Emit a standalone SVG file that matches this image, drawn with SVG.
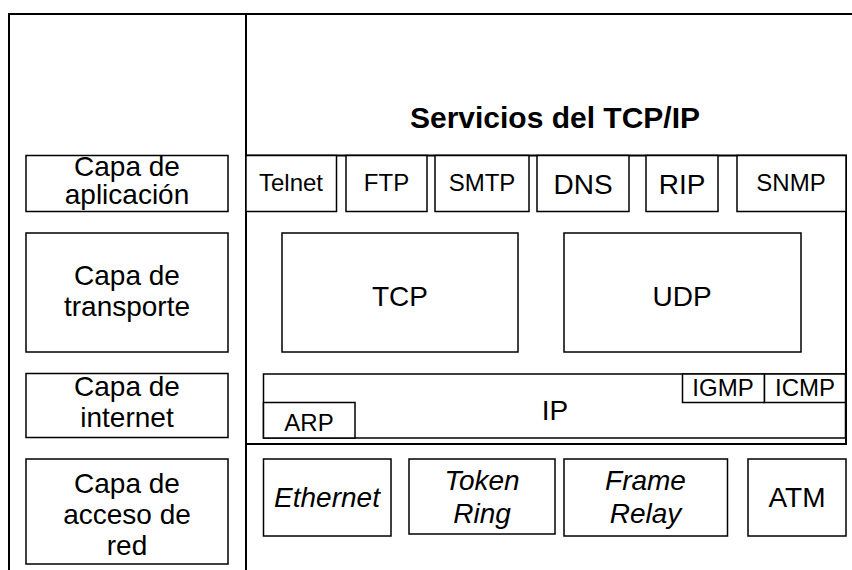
<svg xmlns="http://www.w3.org/2000/svg" width="852" height="570" viewBox="0 0 852 570">
<style>
.frame{fill:none;stroke:#000;stroke-width:2}
.box{fill:#fff;stroke:#000;stroke-width:1.5}
text{font-family:"Liberation Sans",Arial,sans-serif;fill:#000;text-anchor:middle}
.b{font-size:28px}
.s{font-size:24px}
.i{font-style:italic}
.t{font-size:30px;font-weight:bold}
</style>
<rect width="852" height="570" fill="#fff"/>
<g id="connectors">
<path class="frame" d="M9,570 V14 H852 M246,14 V570 M246,155.5 H846 V444 H246"/>
</g>
<g id="title"><text class="t" x="555" y="128">Servicios del TCP/IP</text></g>
<g id="capa-aplicacion"><rect class="box" x="26" y="155.5" width="202" height="56"/><text class="b" x="127" y="176">Capa de</text><text class="b" x="127" y="204">aplicación</text></g>
<g id="capa-transporte"><rect class="box" x="26" y="233" width="202" height="119"/><text class="b" x="127" y="285">Capa de</text><text class="b" x="127" y="316">transporte</text></g>
<g id="capa-internet"><rect class="box" x="26" y="373.5" width="202" height="64"/><text class="b" x="127" y="396">Capa de</text><text class="b" x="127" y="427">internet</text></g>
<g id="capa-acceso"><rect class="box" x="26" y="459" width="202" height="105"/><text class="b" x="127" y="493">Capa de</text><text class="b" x="127" y="524">acceso de</text><text class="b" x="127" y="555">red</text></g>
<g id="telnet"><rect class="box" x="246" y="155.5" width="90.5" height="56"/><text class="s" x="291" y="191">Telnet</text></g>
<g id="ftp"><rect class="box" x="346" y="155.5" width="81" height="56"/><text class="s" x="386.5" y="191">FTP</text></g>
<g id="smtp"><rect class="box" x="435" y="155.5" width="94" height="56"/><text class="s" x="482" y="191">SMTP</text></g>
<g id="dns"><rect class="box" x="537" y="155.5" width="92" height="56"/><text class="b" x="583" y="194">DNS</text></g>
<g id="rip"><rect class="box" x="646" y="155.5" width="72" height="56"/><text class="b" x="682" y="194">RIP</text></g>
<g id="snmp"><rect class="box" x="737" y="155.5" width="109" height="56"/><text class="s" x="791" y="191">SNMP</text></g>
<g id="tcp"><rect class="box" x="282" y="233" width="236" height="119"/><text class="b" x="400" y="306">TCP</text></g>
<g id="udp"><rect class="box" x="564" y="233" width="237" height="119"/><text class="b" x="682" y="306">UDP</text></g>
<g id="ip"><rect class="box" x="263.5" y="374" width="582" height="64"/><text class="b" x="555" y="420">IP</text></g>
<g id="arp"><rect class="box" x="263.5" y="402.5" width="91.5" height="35.5"/><text class="s" x="309" y="431">ARP</text></g>
<g id="igmp"><rect class="box" x="682.5" y="374" width="82" height="28.5"/><text class="s" x="723" y="396">IGMP</text></g>
<g id="icmp"><rect class="box" x="764.5" y="374" width="81" height="28.5"/><text class="s" x="805" y="396">ICMP</text></g>
<g id="ethernet"><rect class="box" x="263.5" y="459" width="127.5" height="77"/><text class="b i" x="327" y="507">Ethernet</text></g>
<g id="token-ring"><rect class="box" x="409" y="459" width="146" height="75"/><text class="b i" x="482" y="490">Token</text><text class="b i" x="482" y="523">Ring</text></g>
<g id="frame-relay"><rect class="box" x="564" y="459" width="163.5" height="77"/><text class="b i" x="645.5" y="490">Frame</text><text class="b i" x="645.5" y="523">Relay</text></g>
<g id="atm"><rect class="box" x="748" y="459" width="98" height="77"/><text class="b" x="797" y="507">ATM</text></g>
</svg>
